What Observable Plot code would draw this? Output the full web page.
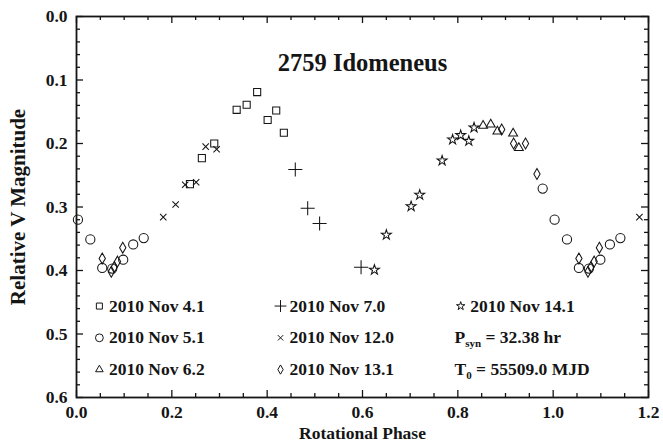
<!DOCTYPE html>
<html>
<head>
<meta charset="utf-8">
<script src="https://cdn.jsdelivr.net/npm/d3@7"></script>
<script src="https://cdn.jsdelivr.net/npm/@observablehq/plot@0.6"></script>
<style>
  html, body { margin: 0; padding: 0; background: #fff; }
  svg { display: block; }
</style>
</head>
<body>
<div id="chart"></div>
<script>
// Lightcurve of 2759 Idomeneus, one array per observing session:
// each point is [rotational phase, relative V magnitude].
const nov04 = [[0.238, 0.264], [0.263, 0.223], [0.289, 0.200], [0.336, 0.147], [0.357, 0.139],
               [0.379, 0.119], [0.401, 0.163], [0.419, 0.148], [0.435, 0.183]];
const nov05 = [[0.003, 0.320], [0.029, 0.351], [0.054, 0.396], [0.075, 0.397], [0.098, 0.383],
               [0.119, 0.359], [0.141, 0.349], [0.978, 0.271], [1.003, 0.320], [1.029, 0.351],
               [1.054, 0.396], [1.075, 0.397], [1.099, 0.383], [1.119, 0.359], [1.141, 0.349]];
const nov06 = [[0.853, 0.172], [0.869, 0.170], [0.883, 0.181], [0.916, 0.184], [0.928, 0.207]];
const nov07 = [[0.459, 0.241], [0.485, 0.302], [0.510, 0.326], [0.597, 0.395]];
const nov12 = [[0.182, 0.316], [0.208, 0.296], [0.228, 0.265], [0.251, 0.261], [0.271, 0.205],
               [0.294, 0.209], [1.181, 0.316]];
const nov13 = [[0.054, 0.381], [0.073, 0.402], [0.079, 0.395], [0.086, 0.386], [0.097, 0.364],
               [0.892, 0.178], [0.917, 0.200], [0.942, 0.200], [0.966, 0.248],
               [1.054, 0.381], [1.073, 0.402], [1.079, 0.395], [1.086, 0.386], [1.097, 0.364]];
const nov14 = [[0.625, 0.399], [0.650, 0.344], [0.702, 0.299], [0.720, 0.281], [0.767, 0.227],
               [0.789, 0.194], [0.806, 0.187], [0.823, 0.196], [0.834, 0.175]];

const sessionLabels = ["2010 Nov 4.1", "2010 Nov 5.1", "2010 Nov 6.2", "2010 Nov 7.0",
                       "2010 Nov 12.0", "2010 Nov 13.1", "2010 Nov 14.1"];
const fitNotes = ["P_syn = 32.38 hr", "T_0 = 55509.0 MJD"];
const title = "2759 Idomeneus";
const xLabel = "Rotational Phase";
const yLabel = "Relative V Magnitude";
const xTicks = [0, 0.2, 0.4, 0.6, 0.8, 1.0, 1.2];
const yTicks = [0, 0.1, 0.2, 0.3, 0.4, 0.5, 0.6];

// ---- layout ----
const W = 663, H = 444;
const M = {top: 16, right: 15, bottom: 47, left: 76};
const innerW = W - M.left - M.right;
const innerH = H - M.top - M.bottom;
const ink = "#151515";
const serif = "'Liberation Serif', 'Times New Roman', Times, serif";

const series = [
  {points: nov04, symbol: "square",   r: 4.0},
  {points: nov05, symbol: "circle",   r: 4.6},
  {points: nov06, symbol: "triangle", r: 3.3},
  {points: nov07, symbol: "plus",     r: 4.6},
  {points: nov12, symbol: "times",    r: 3.0},
  {points: nov13, symbol: "diamond",  r: 3.3},
  {points: nov14, symbol: "star",     r: 3.1}
].map((s, i) => ({...s, label: sessionLabels[i]}));

// Legend grid (column-major, three rows) in data units
const legendCols = [{sym: 0.048, txt: 0.068}, {sym: 0.428, txt: 0.447}, {sym: 0.806, txt: 0.826}];
const legendRows = [0.456, 0.506, 0.556];
const legendItems = series.map((s, i) => ({
  ...s,
  col: legendCols[Math.floor(i / 3)],
  row: legendRows[i % 3]
}));
const noteItems = fitNotes.map((t, i) => ({text: t, x: 0.793, y: legendRows[i + 1]}));

// Minor/major tick positions
const xMinor = d3.range(0, 1.2001, 0.05).filter(v => !xTicks.some(t => Math.abs(t - v) < 1e-6));
const yMinor = d3.range(0, 0.6001, 0.02).filter(v => !yTicks.some(t => Math.abs(t - v) < 1e-6));

const majorLen = 7, minorLen = 4;
const tickStyle = {stroke: ink, strokeWidth: 1.3};

const marks = [
  // inward ticks on all four sides
  Plot.tickX(xTicks, {x: d => d, insetTop: innerH - majorLen, ...tickStyle}),
  Plot.tickX(xMinor, {x: d => d, insetTop: innerH - minorLen, ...tickStyle}),
  Plot.tickX(xTicks, {x: d => d, insetBottom: innerH - majorLen, ...tickStyle}),
  Plot.tickX(xMinor, {x: d => d, insetBottom: innerH - minorLen, ...tickStyle}),
  Plot.tickY(yTicks, {y: d => d, insetRight: innerW - majorLen, ...tickStyle}),
  Plot.tickY(yMinor, {y: d => d, insetRight: innerW - minorLen, ...tickStyle}),
  Plot.tickY(yTicks, {y: d => d, insetLeft: innerW - majorLen, ...tickStyle}),
  Plot.tickY(yMinor, {y: d => d, insetLeft: innerW - minorLen, ...tickStyle}),
  Plot.frame({stroke: ink, strokeWidth: 1.8}),

  // tick labels
  Plot.axisX(xTicks, {anchor: "bottom", tickSize: 0, tickPadding: 8, tickFormat: d3.format(".1f"),
                      fontSize: 17.5, fontWeight: "bold", fill: ink, label: null}),
  Plot.axisY(yTicks, {anchor: "left", tickSize: 0, tickPadding: 9, tickFormat: d3.format(".1f"),
                      fontSize: 17.5, fontWeight: "bold", fill: ink, label: null}),

  // axis titles and chart title
  Plot.text([xLabel], {frameAnchor: "bottom", dy: 36, lineAnchor: "middle", text: d => d,
                       fontSize: 17.5, fontWeight: "bold", fill: ink}),
  Plot.text([yLabel], {frameAnchor: "left", dx: -58, rotate: -90, textAnchor: "middle",
                       lineAnchor: "middle", text: d => d, fontSize: 21, fontWeight: "bold", fill: ink}),
  Plot.text([title], {frameAnchor: "top", dy: 47, lineAnchor: "middle", text: d => d,
                      fontSize: 24.5, fontWeight: "bold", fill: ink}),

  // observations
  ...series.map(s => Plot.dot(s.points, {
    x: d => d[0], y: d => d[1], symbol: s.symbol, r: s.r,
    fill: "none", stroke: ink, strokeWidth: 1.05
  })),

  // legend
  ...legendItems.map(s => Plot.dot([s], {
    x: d => d.col.sym, y: d => d.row, symbol: s.symbol, r: s.r * 0.85,
    fill: "none", stroke: ink, strokeWidth: 1
  })),
  Plot.text(legendItems, {x: d => d.col.txt, y: d => d.row, text: d => d.label,
                          textAnchor: "start", fontSize: 17.5, fontWeight: "bold", fill: ink}),
  Plot.text(noteItems, {x: d => d.x, y: d => d.y, text: d => d.text,
                        textAnchor: "start", fontSize: 17.5, fontWeight: "bold", fill: ink})
];

const chart = Plot.plot({
  width: W,
  height: H,
  marginTop: M.top,
  marginRight: M.right,
  marginBottom: M.bottom,
  marginLeft: M.left,
  style: {fontFamily: serif, fontSize: "17px", background: "#fff", color: ink, overflow: "visible"},
  x: {domain: [0, 1.2], axis: null},
  y: {domain: [0, 0.6], reverse: true, axis: null},
  marks
});

// Subscripts in the fit notes ("P_syn" -> P with subscript syn)
d3.select(chart).selectAll("text").each(function () {
  const t = this.textContent;
  const m = /^(\w)_(\w+)(.*)$/.exec(t);
  if (!m) return;
  const el = d3.select(this);
  el.text(null);
  el.append("tspan").text(m[1]);
  el.append("tspan").attr("dy", 4).attr("font-size", 11).text(m[2]);
  el.append("tspan").attr("dy", -4).text(m[3]);
});

document.getElementById("chart").appendChild(chart);
</script>
</body>
</html>
